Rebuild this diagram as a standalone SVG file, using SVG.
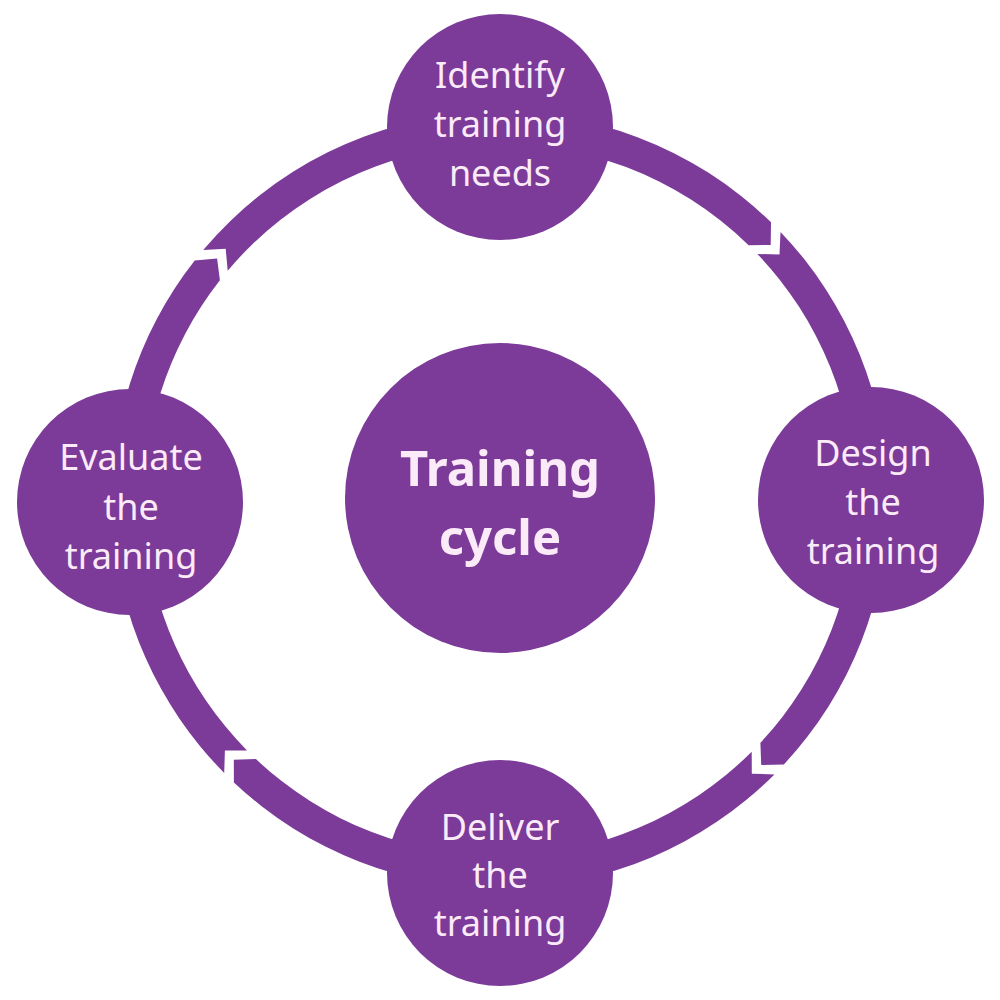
<svg xmlns="http://www.w3.org/2000/svg" width="1000" height="1000" viewBox="0 0 1000 1000">
<style>
.seg{fill:#7C3A99}
.node{fill:#7C3A99}
.t{font-family:"Noto Sans",Lato,sans-serif;font-size:36px;fill:#FBEAF8;text-anchor:middle}
.c{font-family:"Noto Sans",Lato,sans-serif;font-size:49px;font-weight:bold;fill:#FBEAF8;text-anchor:middle}
</style>
<rect width="1000" height="1000" fill="#ffffff"/>
<g id="connectors">
<path class="seg" d="M203.2,250.1 A388,388 0 0 1 771.0,222.3 L770.7,244.9 L748.6,245.2 A356,356 0 0 0 227.7,270.7 L225.7,248.7 Z"/>
<path class="seg" d="M780.5,231.9 A388,388 0 0 1 783.8,764.6 L761.2,764.9 L760.4,742.8 A356,356 0 0 0 757.4,254.0 L779.5,254.5 Z"/>
<path class="seg" d="M774.4,774.4 A388,388 0 0 1 233.9,782.4 L233.8,759.8 L255.9,759.1 A356,356 0 0 0 751.7,751.7 L751.8,773.8 Z"/>
<path class="seg" d="M224.2,772.9 A388,388 0 0 1 194.7,260.6 L217.1,258.4 L219.9,280.3 A356,356 0 0 0 247.0,750.4 L224.9,750.4 Z"/>
</g>
<g id="center">
<circle class="node" cx="500" cy="498" r="155"/>
<text class="c" x="500" y="486">Training</text>
<text class="c" x="500" y="555">cycle</text>
</g>
<g id="identify">
<circle class="node" cx="500" cy="127" r="113"/>
<text class="t" x="500" y="88">Identify</text>
<text class="t" x="500" y="137">training</text>
<text class="t" x="500" y="186">needs</text>
</g>
<g id="design">
<circle class="node" cx="871" cy="500" r="113"/>
<text class="t" x="873" y="466">Design</text>
<text class="t" x="873" y="515">the</text>
<text class="t" x="873" y="564">training</text>
</g>
<g id="deliver">
<circle class="node" cx="500" cy="873" r="113"/>
<text class="t" x="500" y="840">Deliver</text>
<text class="t" x="500" y="888">the</text>
<text class="t" x="500" y="936">training</text>
</g>
<g id="evaluate">
<circle class="node" cx="130" cy="502" r="113"/>
<text class="t" x="131" y="470">Evaluate</text>
<text class="t" x="131" y="520">the</text>
<text class="t" x="131" y="569">training</text>
</g>
</svg>
